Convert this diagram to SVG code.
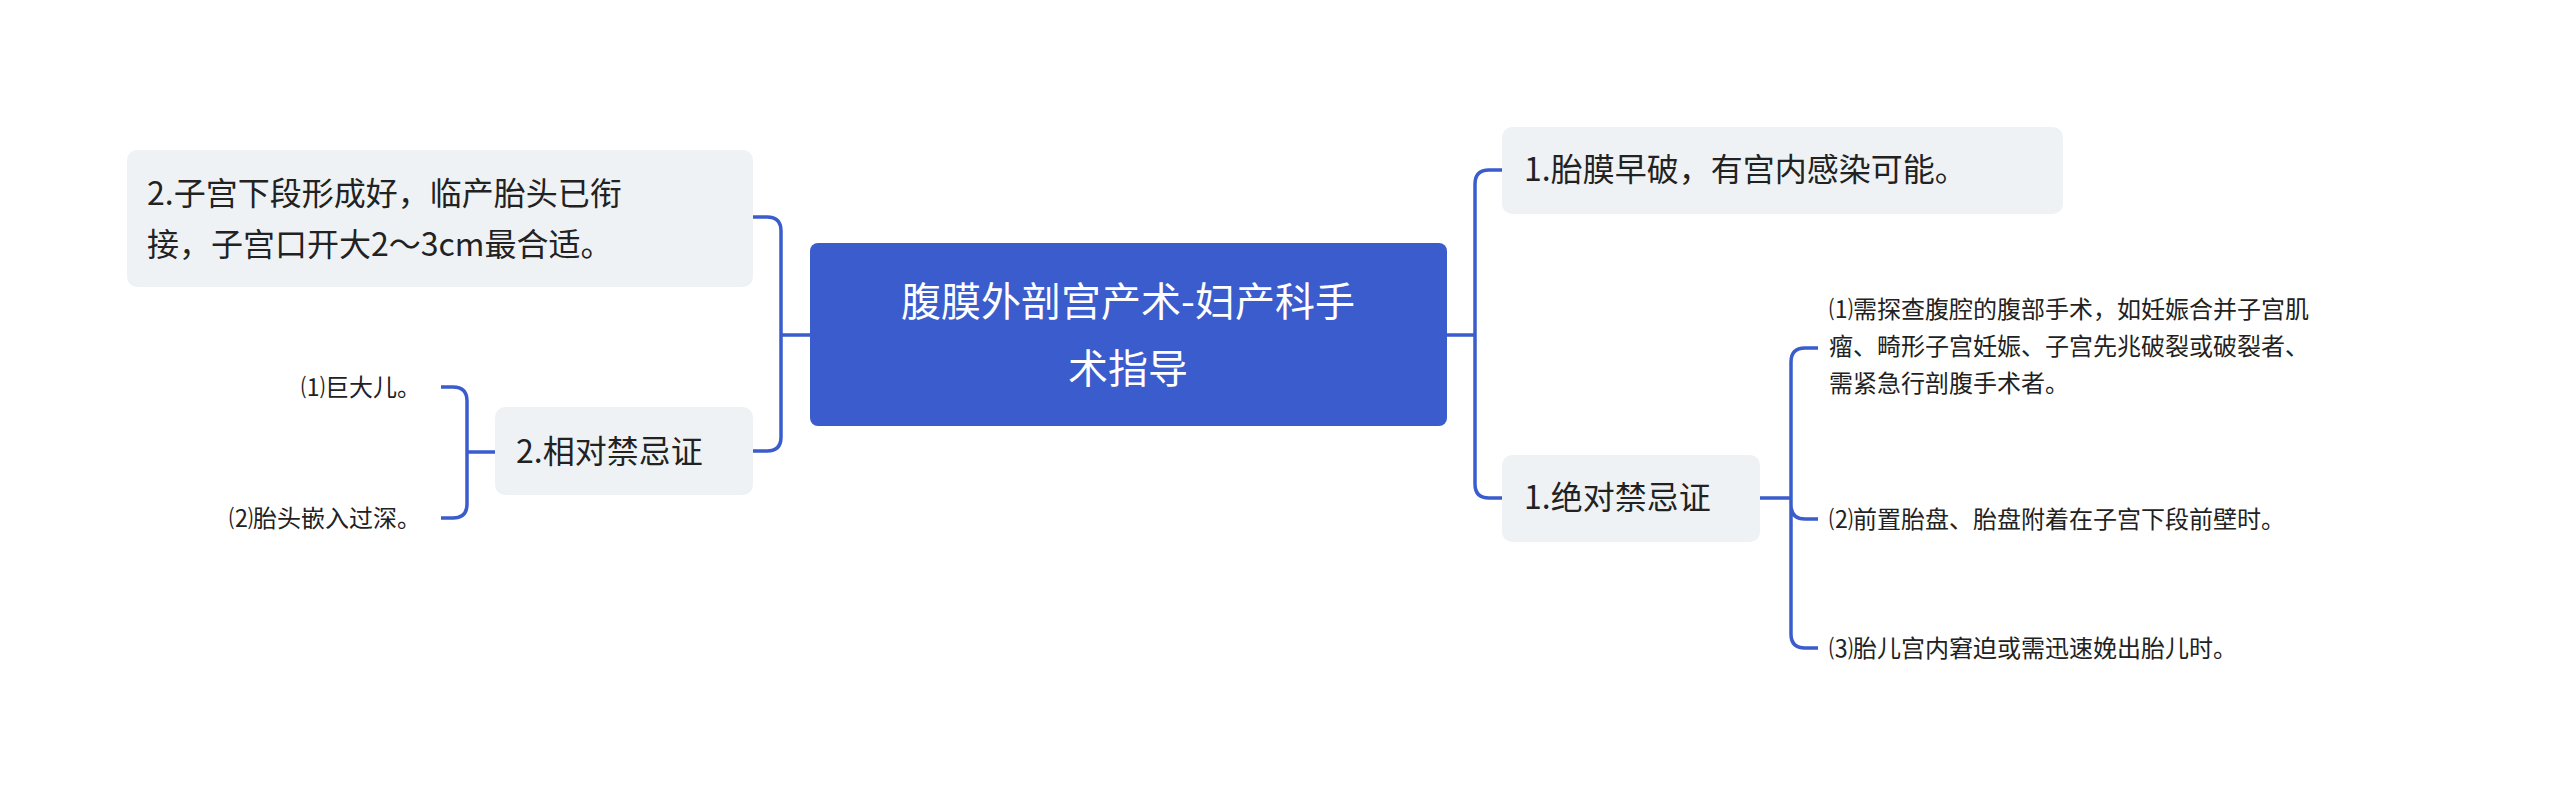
<svg xmlns="http://www.w3.org/2000/svg" width="2560" height="808" viewBox="0 0 2560 808">
<style>
text{font-family:"Noto Sans CJK SC","Noto Sans",sans-serif;fill:#222}
.b{fill:#eff2f5}
.l{font-size:32px}
.s{font-size:24px}
.c{fill:none;stroke:#3a5ccc;stroke-width:3.5}
</style>
<rect width="2560" height="808" fill="#fff"/>
<g id="connectors">
<path class="c" d="M810 335H781M781 335V231Q781 217 767 217H753M781 335V437Q781 451 767 451H753"/>
<path class="c" d="M495 452H467M467 452V401Q467 387 453 387H441M467 452V504Q467 518 453 518H441"/>
<path class="c" d="M1447 335H1475M1475 335V184Q1475 170 1489 170H1502M1475 335V484Q1475 498 1489 498H1502"/>
<path class="c" d="M1760 498H1791M1791 498V362Q1791 348 1805 348H1818M1791 498V505Q1791 519 1805 519H1818M1791 498V634Q1791 648 1805 648H1818"/>
</g>
<g id="root">
<rect x="810" y="243" width="637" height="183" rx="8" fill="#3a5ccc"/>
<text x="1128" y="316" font-size="40" text-anchor="middle" style="fill:#fff">腹膜外剖宫产术-妇产科手</text>
<text x="1128" y="383" font-size="40" text-anchor="middle" style="fill:#fff">术指导</text>
</g>
<g id="n2a">
<rect class="b" x="127" y="150" width="626" height="137" rx="10"/>
<text class="l" x="147" y="205">2.子宫下段形成好，临产胎头已衔</text>
<text class="l" x="147" y="256">接，子宫口开大2～3cm最合适。</text>
</g>
<g id="n2b">
<rect class="b" x="495" y="407" width="258" height="88" rx="10"/>
<text class="l" x="516" y="463">2.相对禁忌证</text>
</g>
<g id="l2b1"><text class="s" x="421" y="396" text-anchor="end">⑴巨大儿。</text></g>
<g id="l2b2"><text class="s" x="421" y="527" text-anchor="end">⑵胎头嵌入过深。</text></g>
<g id="n1a">
<rect class="b" x="1502" y="127" width="561" height="87" rx="10"/>
<text class="l" x="1524" y="181">1.胎膜早破，有宫内感染可能。</text>
</g>
<g id="n1b">
<rect class="b" x="1502" y="455" width="258" height="87" rx="10"/>
<text class="l" x="1524" y="509">1.绝对禁忌证</text>
</g>
<g id="l1b1">
<text class="s" x="1829" y="318">⑴需探查腹腔的腹部手术，如妊娠合并子宫肌</text>
<text class="s" x="1829" y="355">瘤、畸形子宫妊娠、子宫先兆破裂或破裂者、</text>
<text class="s" x="1829" y="392">需紧急行剖腹手术者。</text>
</g>
<g id="l1b2"><text class="s" x="1829" y="528">⑵前置胎盘、胎盘附着在子宫下段前壁时。</text></g>
<g id="l1b3"><text class="s" x="1829" y="657">⑶胎儿宫内窘迫或需迅速娩出胎儿时。</text></g>
</svg>
